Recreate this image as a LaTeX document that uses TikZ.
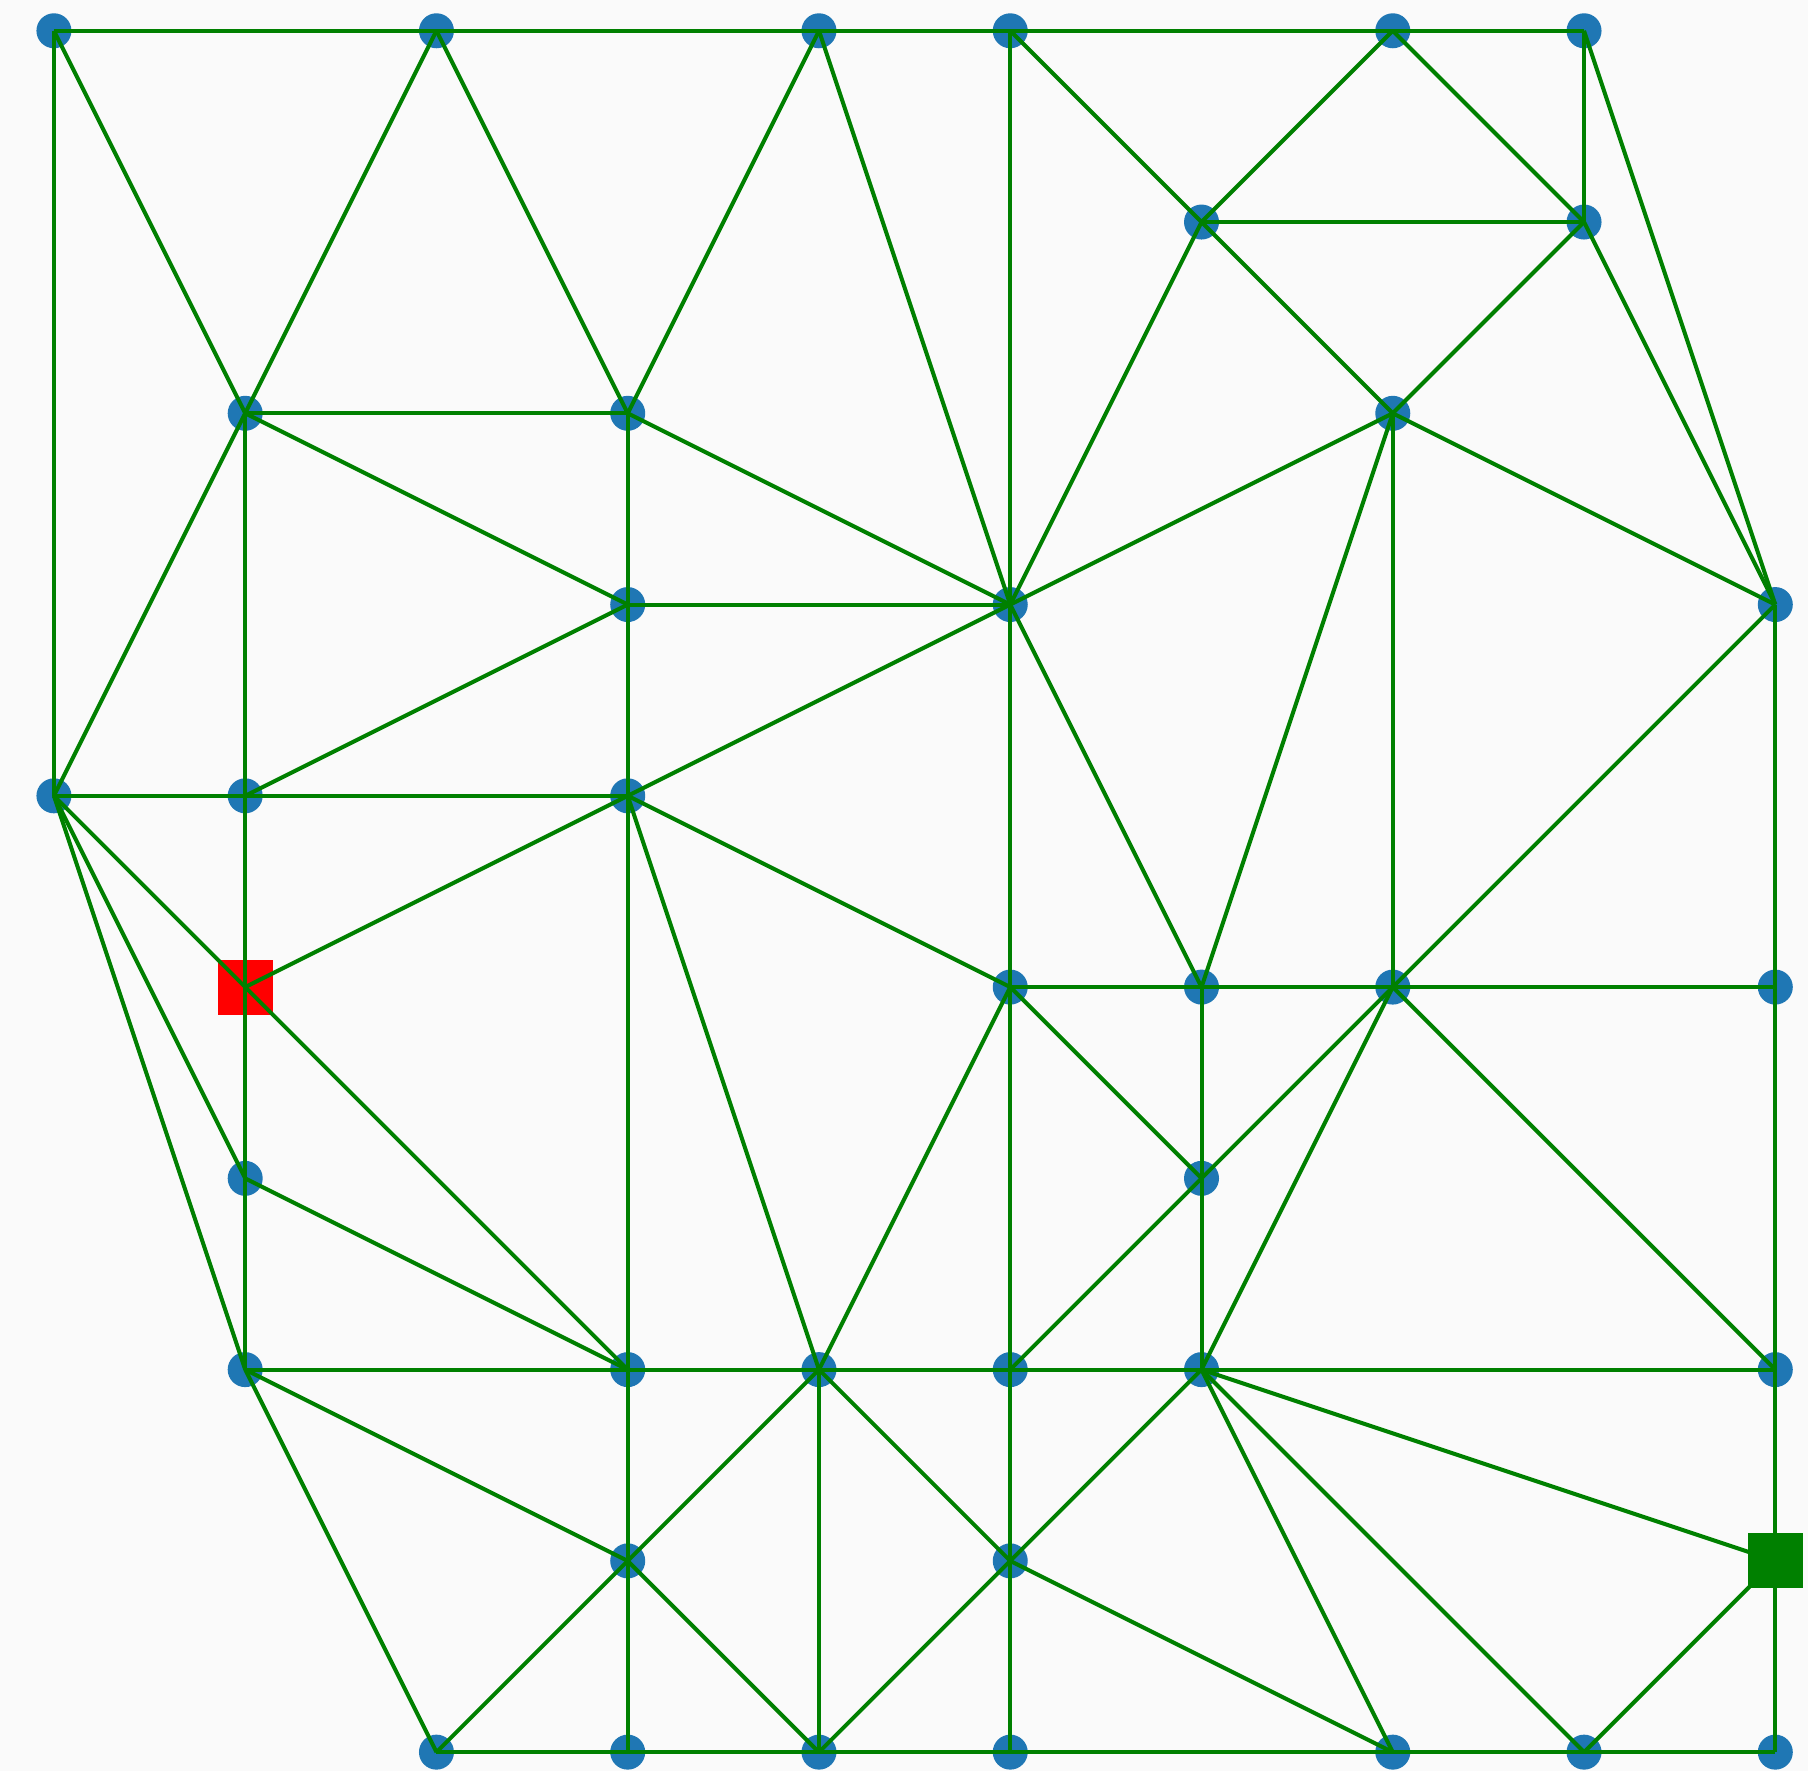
\documentclass[tikz,border=0pt]{standalone}
\usepackage{tikz}

\definecolor{dotblue}{RGB}{31,119,180}
\definecolor{linkgreen}{RGB}{0,128,0}
\definecolor{bgpaper}{RGB}{250,250,250}

\begin{document}
\begin{tikzpicture}[
    dot/.style={circle, fill=dotblue, inner sep=0pt, minimum size=0.183cm},
    srcsq/.style={rectangle, fill=red, inner sep=0pt, minimum size=0.288cm},
    dstsq/.style={rectangle, fill=linkgreen, inner sep=0pt, minimum size=0.288cm},
    link/.style={draw=linkgreen, line width=0.6pt}
]
% --- Canvas ---
\fill[bgpaper] (-0.282,0.161) rectangle (9.171,-9.096);

% --- Mesh vertices (column/row on the unit grid) ---
\foreach \col/\row in {0/0,2/0,4/0,5/0,7/0,8/0, 6/1,8/1, 1/2,3/2,7/2, 3/3,5/3,9/3,
    0/4,1/4,3/4, 5/5,6/5,7/5,9/5, 1/6,6/6, 1/7,3/7,4/7,5/7,6/7,9/7, 3/8,5/8,
    2/9,3/9,4/9,5/9,7/9,8/9,9/9}
  \node[dot] (v\col\row) at (\col,-\row) {};

% --- Marked vertices ---
\node[srcsq] (v15) at (1,-5) {};
\node[dstsq] (v98) at (9,-8) {};

% === Edges (drawn over the markers) ===
\foreach \p/\q in {00/20, 20/40, 40/50, 50/70, 70/80,
    00/04, 00/12, 20/12, 20/32, 40/32, 40/53, 50/53, 50/61, 70/61, 70/81, 80/81, 80/93,
    61/81, 61/72, 61/53, 81/72, 81/93,
    12/32, 12/14, 12/33, 12/04, 32/33, 32/53, 72/53, 72/75, 72/65, 72/93,
    33/53, 33/14, 33/34, 53/34, 53/55, 53/65, 93/75, 93/95,
    04/14, 14/34, 04/15, 04/16, 04/17, 14/15, 34/15, 34/55, 34/47, 34/37,
    15/16, 15/37, 55/65, 65/75, 75/95, 55/66, 55/47, 55/57, 65/66, 75/66, 75/67, 75/97, 95/97,
    16/17, 16/37, 66/57, 66/67,
    17/37, 37/47, 47/57, 57/67, 67/97,
    17/38, 17/29, 37/38, 47/38, 47/49, 47/58, 57/58, 67/58, 67/79, 67/89, 67/98, 97/98,
    38/29, 38/39, 38/49, 58/49, 58/59, 58/79, 98/89, 98/99,
    29/39, 39/49, 49/59, 59/79, 79/89, 89/99}
  \draw[link] (v\p.center) -- (v\q.center);
\end{tikzpicture}
\end{document}
